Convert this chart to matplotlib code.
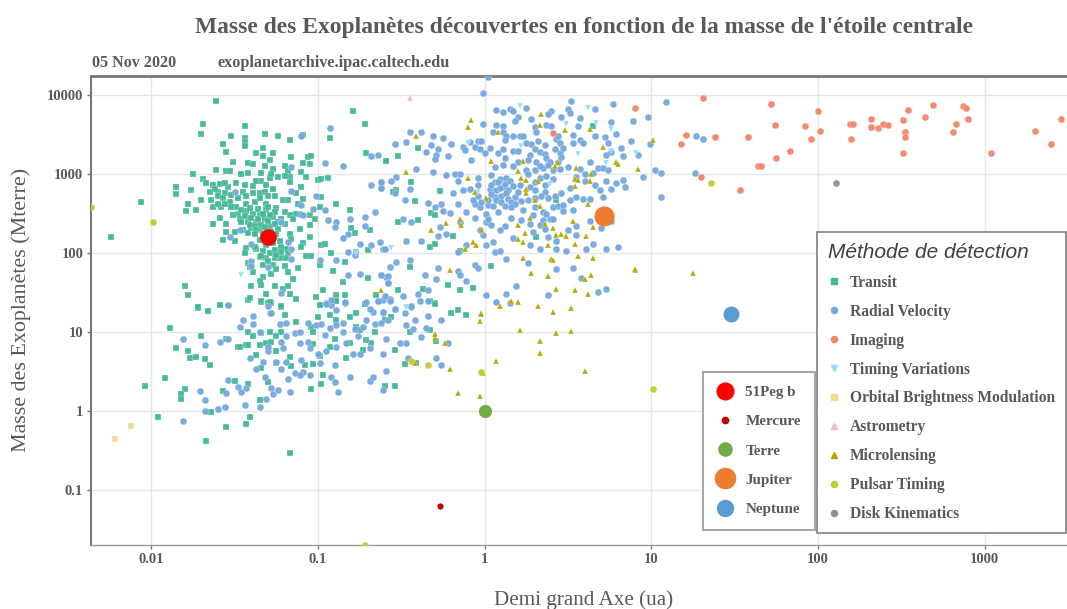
import matplotlib.pyplot as plt
import numpy as np
from matplotlib.lines import Line2D

# values, stored as log10(semi-major axis in ua), log10(mass in Mearth)
transit = [
    (-1.61,3.93),(-0.79,3.80),(-1.69,3.64),(-0.72,3.64),(-1.44,3.61),(-1.70,3.51),(-1.52,3.49),(-1.32,3.51),(-1.24,3.49),(-1.09,3.50),
    (-1.17,3.43),(-0.93,3.46),(-1.44,3.46),(-1.44,3.41),(-1.44,3.36),(-1.57,3.38),(-1.55,3.28),(-1.33,3.33),(-1.37,3.27),(-1.27,3.27),
    (-1.33,3.23),(-1.29,3.18),(-1.16,3.22),(-0.71,3.27),(-1.06,3.22),(-1.04,3.23),(-0.59,3.17),(-1.51,3.15),(-1.42,3.14),(-1.39,3.13),
    (-1.32,3.11),(-1.27,3.07),(-1.20,3.11),(-1.09,3.14),(-1.05,3.13),(-1.61,3.06),(-1.75,3.00),(-1.55,3.04),(-1.53,3.04),(-1.42,3.01),
    (-1.46,3.00),(-1.34,3.01),(-1.18,3.04),(-1.10,3.03),(-1.24,2.96),(-1.17,2.96),(-1.07,2.96),(-0.94,2.95),(-1.00,2.93),(-0.98,2.94),
    (-1.69,2.94),(-1.85,2.84),(-1.85,2.75),(-1.76,2.80),(-2.06,2.65),(-1.78,2.62),(-1.70,2.68),(-1.79,2.53),(-1.73,2.55),(-2.24,2.20),
    (-1.67,2.89),(-1.63,2.86),(-1.59,2.88),(-1.54,2.84),(-1.49,2.89),(-1.44,2.87),(-1.39,2.85),(-1.34,2.91),(-1.29,2.95),(-1.17,2.90),
    (-1.10,2.84),(-1.27,2.82),(-1.65,2.78),(-1.60,2.78),(-1.56,2.76),(-1.45,2.78),(-1.35,2.76),(-1.26,2.72),(-1.13,2.76),(-1.64,2.67),
    (-1.63,2.58),(-1.58,2.58),(-1.53,2.65),(-1.49,2.59),(-1.43,2.63),(-1.38,2.65),(-1.31,2.63),(-1.21,2.68),(-1.18,2.68),(-1.12,2.63),
    (-1.09,2.69),(-0.99,2.59),(-0.98,2.71),(-0.89,2.63),(-0.81,2.55),(-1.05,2.49),(-1.02,2.43),(-1.05,2.36),(-1.13,2.50),(-1.17,2.49),
    (-1.25,2.57),(-1.31,2.55),(-1.35,2.48),(-1.39,2.50),(-1.43,2.53),(-1.48,2.50),(-1.51,2.48),(-1.47,2.44),(-1.42,2.40),(-1.37,2.40),
    (-1.32,2.44),(-1.27,2.46),(-1.22,2.44),(-1.15,2.44),(-1.11,2.31),(-1.59,2.45),(-1.63,2.37),(-1.55,2.37),(-1.55,2.27),(-1.50,2.27),
    (-1.45,2.29),(-1.40,2.32),(-1.35,2.29),(-1.29,2.34),(-1.17,2.24),(-1.16,2.18),(-1.57,2.17),(-1.50,2.15),(-1.05,2.20),(-1.09,2.13),
    (-1.10,2.08),(-1.19,2.05),(-1.43,2.07),(-1.44,2.01),(-1.37,2.06),(-1.31,2.11),(-1.22,2.08),(-0.98,2.10),(-0.96,2.12),(-0.92,2.01),
    (-0.80,2.32),(-0.78,2.26),(-0.69,2.30),(-0.70,2.04),(-0.77,2.02),(-1.07,1.96),(-1.04,1.96),(-0.99,1.85),(-1.12,1.82),(-1.20,1.84),
    (-1.35,1.95),(-1.31,1.94),(-1.26,1.94),(-1.22,1.94),(-1.42,1.88),(-1.41,1.83),(-1.33,1.85),(-1.27,1.85),(-1.25,1.80),(-1.28,1.74),
    (-1.39,1.76),(-1.18,1.76),(-1.33,1.70),(-1.15,1.68),(-1.35,1.65),(-1.34,1.60),(-1.40,1.58),(-1.26,1.58),(-1.21,1.55),(-1.18,1.59),
    (-1.17,1.49),(-1.31,1.49),(-1.13,1.42),(-1.42,1.41),(-1.41,1.43),(-1.34,1.38),(-1.30,1.37),(-1.28,1.37),(-1.22,1.32),(-1.80,1.59),
    (-1.78,1.47),(-1.72,1.31),(-1.66,1.27),(-1.59,1.35),(-1.01,1.45),(-0.97,1.54),(-0.91,1.78),(-0.84,1.89),(-0.85,1.64),(-0.70,1.69),
    (-0.89,1.47),(-0.84,1.47),(-0.89,1.39),(-0.99,1.34),(-0.72,1.36),(-0.65,1.47),
    (-1.72,1.32),(-1.66,1.27),(-1.59,1.35),(-1.34,1.39),(-1.29,1.38),(-1.22,1.33),(-1.20,1.22),(-1.13,1.13),(-1.89,1.05),(-1.70,0.95),
    (-1.85,0.80),(-1.78,0.76),(-1.77,0.67),(-1.73,0.69),(-1.68,0.66),(-1.65,0.59),(-2.04,0.32),(-1.92,0.42),(-1.80,0.28),(-1.82,0.22),
    (-1.82,0.15),(-1.57,0.26),(-1.50,0.39),(-1.42,0.35),(-1.35,0.14),(-1.30,0.37),(-1.96,-0.07),(-1.64,-0.01),(-1.41,-0.07),(-1.43,-0.16),
    (-1.55,-0.20),(-1.67,-0.38),(-1.17,-0.53),(-1.55,0.91),(-1.48,0.81),(-1.47,0.81),(-1.43,0.84),(-1.42,0.84),(-1.35,0.84),(-1.37,0.71),
    (-1.42,1.00),(-1.39,0.95),(-1.34,0.99),(-1.31,0.87),(-1.28,0.88),(-1.29,1.01),(-1.22,1.00),(-1.25,0.95),(-1.25,0.76),(-1.17,0.69),
    (-1.16,0.57),(-1.34,0.55),(-1.25,0.61),(-1.08,0.59),(-1.03,0.60),(-0.99,0.70),(-1.03,0.85),(-0.93,0.82),(-0.90,0.92),(-0.83,0.67),
    (-0.73,0.78),(-0.68,0.86),(-0.71,0.90),(-0.81,0.87),(-0.66,1.01),(-0.54,0.78),(-0.48,0.60),(-0.41,0.61),(-0.45,1.00),(-0.33,1.03),
    (-0.29,0.89),(-0.30,1.37),(-0.60,0.32),(-0.54,0.32),(-0.97,0.46),(-0.98,0.35),(-1.04,0.28),(-1.04,1.07),(-1.03,1.01),(-1.00,1.20),
    (-0.93,1.22),(-0.89,1.16),(-0.81,1.19),(-0.77,1.24),(-0.77,1.07),(-0.75,1.03),(-0.99,1.35),(-0.89,1.39),(-0.72,1.36),(-0.56,1.20),
    (-0.60,1.16),(-0.40,3.33),(-0.52,3.23),(-0.59,3.17),(-0.44,2.90),(-0.53,2.80),(-0.55,2.77),(-0.27,2.79),(-0.42,2.66),(-0.32,2.51),
    (-0.30,2.48),(-0.52,2.39),(-0.40,2.42),(-0.19,2.22),(-0.33,2.08),(-0.30,2.12),(-0.15,2.03),(0.04,1.84),(-0.45,1.83),(-0.22,1.60),
    (-0.15,1.54),(-0.07,1.56),(-0.52,1.54),(-0.37,1.55),(-0.33,1.39),(-0.30,1.36),(-0.16,1.28),(-0.20,1.25),(-0.11,1.22),(0.43,2.68),
    (0.31,2.20),(0.65,3.61),
    # the dense knot around 51Peg b
    (-1.46,2.55),(-1.41,2.57),(-1.36,2.56),(-1.30,2.58),(-1.26,2.52),(-1.20,2.52),(-1.44,2.47),(-1.40,2.45),(-1.36,2.44),(-1.33,2.50),
    (-1.29,2.49),(-1.24,2.40),(-1.20,2.37),(-1.46,2.40),(-1.41,2.36),(-1.38,2.35),(-1.34,2.36),(-1.30,2.41),(-1.26,2.37),(-1.37,2.30),
    (-1.32,2.33),(-1.28,2.27),(-1.24,2.31),(-1.42,2.26),(-1.38,2.25),(-1.33,2.24),(-1.29,2.20),(-1.25,2.25),(-1.35,2.17),(-1.31,2.17),
    (-1.27,2.13),(-1.23,2.16),(-1.38,2.08),(-1.33,2.03),(-1.29,2.00),(-1.26,2.04),(-1.22,2.02),(-1.18,2.00),(-1.34,1.96),(-1.30,1.90),
    (-1.25,1.98),(-1.19,1.94),(-1.60,2.72),(-1.57,2.70),(-1.52,2.74),(-1.48,2.70),(-1.43,2.72),(-1.39,2.76),(-1.32,2.78),(-1.60,2.63),
    (-1.56,2.62),(-1.52,2.58),(-1.35,2.70),(-1.30,2.72),(-1.62,2.82),(-1.56,2.89),(-1.37,2.92),(-1.31,2.87),(-1.28,3.00),(-1.20,2.98),
]
radial = [
    (-1.54,1.35),(-1.29,1.25),(-1.39,1.21),(-1.45,1.15),(-1.47,1.07),(-1.39,1.11),(-1.81,0.91),(-1.68,0.84),(-1.59,0.88),(-1.54,0.92),
    (-1.41,0.68),(-1.37,0.53),(-1.33,0.62),(-1.30,0.76),(-1.30,0.82),(-1.35,1.00),(-1.22,0.54),(-1.25,0.62),(-1.19,0.63),(-1.14,0.49),
    (-1.18,0.41),(-1.32,0.43),(-1.54,0.40),(-1.48,0.31),(-1.46,0.24),(-1.43,0.29),(-1.71,0.26),(-1.55,0.23),(-1.68,0.14),(-1.68,0.00),
    (-1.60,0.03),(-1.56,0.06),(-1.44,0.08),(-1.35,0.05),(-1.31,0.15),(-1.81,-0.12),(-1.28,0.29),(-1.27,0.22),(-1.24,0.27),(-1.17,0.24),
    (-1.22,0.88),(-1.21,0.80),(-1.19,0.95),(-1.14,0.99),(-1.11,1.01),(-1.11,0.87),(-1.06,0.88),(-1.05,0.80),(-1.09,0.50),(-1.05,0.46),
    (-1.11,0.46),(-1.10,0.65),(-0.99,0.61),(-1.00,0.73),(-0.95,0.76),(-0.90,0.58),(-0.92,0.44),(-0.90,0.37),(-0.88,0.25),(-0.81,0.43),
    (-0.79,0.73),(-0.75,0.72),(-0.69,0.80),(-0.69,0.38),(-0.67,0.43),(-0.61,0.72),(-0.59,0.51),(-0.61,0.27),(-0.59,0.91),(-0.51,0.86),
    (-0.47,0.87),(-0.38,0.94),(-0.35,1.05),(-0.34,1.21),(-0.26,1.16),(-0.22,0.86),(-0.29,0.68),(-0.26,0.59),(-0.46,0.68),(-1.23,1.11),
    (-1.19,1.12),(-1.06,1.12),(-1.01,1.09),(-0.98,1.10),(-0.93,1.05),(-0.85,1.01),(-0.89,1.09),(-0.85,1.12),(-0.78,1.04),(-0.73,1.07),
    (-0.71,1.16),(-0.66,1.10),(-0.62,1.12),(-0.58,1.16),(-0.67,1.26),(-0.61,1.25),(-0.54,1.29),(-0.48,1.24),(-0.47,1.09),(-0.43,1.04),
    (-0.42,1.16),(-0.44,1.32),(-0.34,1.39),(-0.95,1.37),(-0.92,1.35),(-0.84,1.37),(-0.89,1.28),(-0.64,1.39),(-0.96,0.97),(-0.89,0.82),
    (-0.83,0.87),(-0.76,0.95),
    (0.02,4.23),(-0.01,4.03),(0.52,3.93),(0.77,3.89),(1.09,3.92),(0.07,3.81),(0.11,3.79),(0.15,3.82),(0.17,3.80),(0.25,3.84),
    (0.40,3.80),(0.38,3.76),(0.50,3.83),(0.51,3.78),(0.66,3.83),(0.46,3.73),(0.57,3.71),(0.20,3.72),(0.18,3.67),(0.28,3.70),
    (0.76,3.66),(0.89,3.68),(0.98,3.73),(-0.01,3.64),(0.07,3.63),(0.11,3.61),(0.30,3.60),(0.37,3.62),(0.56,3.61),(0.40,3.61),
    (-0.45,3.53),(-0.38,3.54),(-0.31,3.49),(-0.25,3.46),(0.05,3.53),(0.11,3.54),(0.13,3.49),(0.17,3.49),(0.21,3.49),(0.23,3.49),
    (0.31,3.54),(0.43,3.45),(0.66,3.48),(0.72,3.47),(0.79,3.51),(0.53,3.50),(-0.54,3.38),(-0.47,3.41),(-0.32,3.37),(-0.20,3.38),
    (-0.09,3.41),(-0.04,3.42),(-0.02,3.42),(0.12,3.43),(0.57,3.44),(0.59,3.39),(0.53,3.39),(0.88,3.42),(0.99,3.38),(-0.35,3.28),
    (-0.28,3.32),(-0.29,3.24),(-0.30,3.19),(-0.22,3.23),(-0.13,3.35),(-0.12,3.31),(-0.06,3.35),(-0.03,3.32),(0.00,3.27),(0.03,3.33),
    (0.08,3.27),(0.11,3.32),(0.17,3.30),(0.20,3.29),(0.28,3.38),(0.30,3.32),(0.33,3.28),(0.36,3.26),(0.27,3.24),(0.45,3.27),
    (0.45,3.39),(0.74,3.39),(0.73,3.24),(0.76,3.28),(0.82,3.33),(0.83,3.23),(0.92,3.25),(-0.08,3.18),(0.12,3.21),(0.20,3.16),
    (0.37,3.20),(0.39,3.16),(0.31,3.15),(0.26,3.18),(0.06,3.09),(0.11,3.12),(0.17,3.11),(0.25,3.05),(0.30,3.05),(0.35,3.08),
    (0.41,3.05),(0.45,3.07),(0.50,3.09),(0.57,3.07),(0.63,3.16),(0.68,3.08),(0.71,3.08),(0.74,3.05),(1.02,3.06),(1.06,3.01),
    (-0.41,3.07),(-0.31,3.03),(-0.53,2.97),(-0.56,2.92),(-0.62,2.90),(-0.62,2.83),(-0.45,2.82),(-0.23,2.99),(-0.18,3.00),(-0.15,3.00),
    (-0.16,2.91),(-0.04,2.95),(-0.04,2.86),(-0.13,2.80),(-0.09,2.81),(0.04,2.99),(0.06,2.90),(0.09,2.94),(0.13,2.95),(0.03,2.82),
    (0.07,2.80),(0.11,2.84),(0.14,2.80),(0.06,2.71),(0.10,2.73),(0.14,2.69),(0.18,2.71),(0.21,2.86),(0.20,2.78),(0.27,2.84),
    (0.30,2.80),(0.36,2.86),(0.36,2.77),(0.41,2.94),(0.46,2.76),(0.51,2.67),(0.55,2.71),(0.59,2.69),(0.63,2.69),(0.69,2.80),
    (0.66,2.86),(0.60,2.92),(0.51,2.83),(0.71,2.71),(0.73,2.91),(0.79,2.89),(0.83,2.93),(0.84,2.84),(0.76,2.81),(0.95,2.97),
    (1.06,2.71),(-0.48,2.68),(-0.54,2.76),(-0.34,2.64),(-0.30,2.59),(-0.26,2.62),(-0.25,2.54),(-0.21,2.51),(-0.19,2.76),(-0.16,2.63),
    (-0.11,2.52),(-0.06,2.63),(-0.03,2.59),(0.02,2.61),(0.08,2.52),(0.01,2.50),(0.23,2.55),(0.30,2.59),(0.29,2.48),(0.35,2.52),
    (0.41,2.59),(0.44,2.60),(0.47,2.61),(0.53,2.55),(0.47,2.54),(0.39,2.43),(0.63,2.41),(0.76,2.41),(-0.49,2.43),(-0.44,2.40),
    (-0.27,2.33),(-0.06,2.45),(0.01,2.40),(0.16,2.45),(0.12,2.35),(0.22,2.42),(0.27,2.37),(0.36,2.31),(0.50,2.30),(0.55,2.35),
    (0.70,2.32),(0.09,2.29),(0.29,2.27),(-0.23,2.25),(-0.28,2.22),(-0.47,2.16),(-0.38,2.16),(-0.61,2.06),(-0.01,2.23),(0.05,2.14),
    (-0.11,2.11),(0.01,2.10),(0.17,2.19),(0.27,2.10),(0.38,2.21),(0.43,2.16),(0.55,2.23),(0.65,2.12),(0.33,2.06),(0.43,2.06),
    (0.49,2.03),(0.61,2.05),(0.73,2.05),(0.80,2.08),(-0.16,2.02),(0.06,2.02),(0.09,2.03),(0.13,1.93),(0.26,1.88),(-0.45,1.92),
    (-0.53,1.89),(-0.57,1.83),(-0.28,1.82),(-0.16,1.78),(-0.06,1.85),(-0.04,1.82),(-0.62,1.73),(-0.36,1.72),(-0.29,1.68),(-0.15,1.72),
    (-0.59,1.70),(-0.58,1.62),(-0.11,1.65),(0.43,1.80),(0.53,1.81),(0.58,1.69),(0.19,1.58),(0.13,1.49),(0.01,1.47),(0.38,1.47),
    (0.68,1.51),(0.73,1.55),(-0.49,1.46),(-0.40,1.49),(-0.39,1.40),(-0.34,1.53),(-0.61,1.41),(-0.57,1.42),(-0.44,1.33),(-0.54,1.29),
    (0.07,1.38),(0.15,1.37),(1.27,3.49),(1.31,3.45),(1.26,3.01),
    (-0.93,3.59),(-1.10,3.49),(-0.68,3.23),(-0.64,3.24),(-0.96,3.14),(-0.85,3.10),(-1.16,3.09),(-0.68,2.86),(-0.62,2.90),(-0.62,2.83),
    (-1.50,2.77),(-1.16,2.79),(-1.01,2.72),(-1.10,2.61),(-1.03,2.56),(-0.96,2.55),(-1.11,2.50),(-1.09,2.48),(-0.66,2.52),(-0.94,2.42),
    (-0.81,2.44),(-0.72,2.46),(-0.89,2.40),(-0.90,2.33),(-0.72,2.35),(-0.82,2.25),(-0.85,2.19),(-0.75,2.12),(-0.68,2.11),(-0.63,2.14),
    (-0.60,2.06),(-1.53,2.21),(-1.40,2.12),(-1.16,2.06),(-1.18,2.14),(-1.22,2.40),(-1.47,2.29),(-0.82,2.02),(-0.78,1.98),(-1.16,1.93),
    (-0.99,1.92),(-0.89,1.92),(-1.40,1.90),(-1.40,1.84),(-1.30,1.83),(-0.82,1.73),(-0.75,1.74),(-0.62,1.73),(-0.58,1.71),(-0.58,1.63),
    (-1.22,1.50),(-1.54,1.34),(-1.30,1.33),(-1.28,1.25),(-0.92,1.41),(-0.95,1.36),(-0.84,1.38),(-0.71,1.38),(-0.64,1.40),(-0.60,1.46),
    (-0.57,1.40),(-0.69,1.30),(-0.61,1.26),
    # the dense knot around 1 ua
    (0.04,2.75),(0.07,2.68),(0.10,2.65),(0.13,2.76),(0.16,2.65),(0.18,2.62),(0.02,2.68),(0.05,2.60),(0.09,2.83),(0.12,2.88),
    (0.15,2.91),(0.08,2.90),(0.17,2.85),(0.04,2.86),(-0.04,2.72),(-0.02,2.65),(-0.07,2.68),(0.12,2.60),(0.16,2.58),(0.22,2.66),
    (0.26,2.68),(0.30,2.70),(0.34,2.72),(0.38,2.70),(0.42,2.72),(0.30,2.90),(0.33,2.95),(0.37,2.98),(0.26,3.00),(0.33,3.10),
    (0.38,3.12),(0.44,3.15),(0.46,3.22),(0.42,3.32),(0.36,3.37),(0.32,3.42),(0.25,3.40),(0.44,3.48),(0.47,3.33),(0.60,3.00),
    (0.65,3.02),(0.55,2.97),(0.35,2.42),(0.37,2.50),(0.41,2.44),(0.33,2.36),(0.02,2.44),(0.04,2.36),(-0.03,2.30),(-0.15,2.40),
]
imaging = [
    (1.31,3.97),(1.72,3.89),(2.00,3.80),(1.74,3.63),(1.92,3.61),(1.21,3.50),(1.18,3.38),(1.38,3.47),(1.58,3.47),(1.96,3.45),
    (2.01,3.55),(1.83,3.30),(1.75,3.20),(1.64,3.10),(1.66,3.10),(1.30,2.97),(1.53,2.80),(2.19,3.64),(2.21,3.64),(2.20,3.45),
    (2.32,3.70),(2.32,3.60),(2.36,3.59),(2.39,3.64),(2.42,3.63),(2.51,3.69),(2.54,3.81),(2.64,3.73),(2.69,3.88),(2.52,3.54),
    (2.52,3.47),(2.51,3.27),(2.83,3.64),(2.81,3.54),(2.87,3.86),(2.89,3.84),(2.90,3.70),(3.04,3.27),(3.30,3.55),(3.40,3.38),
    (3.46,3.70),(0.90,3.84),(0.41,3.52),
]
timing = [
    (-1.46,1.73),(-0.77,2.00),(0.21,3.86),(0.62,3.84),(0.49,3.64),(0.67,3.65),(0.76,3.57),(-0.10,3.39),(0.22,3.36),(0.56,3.26),
    (0.91,3.27),(0.76,3.29),(0.73,3.14),(0.39,2.88),(-0.04,2.77),(-0.56,2.07),(-0.47,1.31),(-0.47,1.32),
]
brightness = [(-2.22,-0.35),(-2.12,-0.18)]
astrometry = [(-0.45,3.96)]
microlensing = [
    (-0.08,3.69),(-0.10,3.60),(0.34,3.76),(0.33,3.63),(0.08,3.54),(0.48,3.56),(0.63,3.57),(-0.41,3.48),(1.01,3.43),(0.71,3.35),
    (0.04,3.17),(0.23,3.17),(0.44,3.15),(0.42,3.11),(0.79,3.16),(0.80,3.13),(0.55,3.08),(0.92,3.07),(-0.47,3.03),(0.20,3.04),
    (0.64,3.00),(-0.10,2.95),(0.22,2.95),(0.25,2.93),(0.32,2.91),(0.54,2.94),(0.56,2.93),(0.63,2.92),(0.54,2.85),(0.25,2.81),
    (0.25,2.76),(-0.06,2.77),(0.01,2.70),(0.30,2.68),(0.33,2.60),(0.62,2.62),(0.27,2.45),(-0.15,2.43),(-0.14,2.36),(-0.23,2.38),
    (0.20,2.36),(0.36,2.37),(0.53,2.41),(0.65,2.33),(-0.32,2.29),(-0.02,2.30),(0.24,2.26),(0.41,2.32),(0.61,2.22),(0.43,2.23),
    (0.46,2.24),(0.49,2.22),(0.20,2.18),(0.23,2.14),(-0.07,2.14),(-0.05,2.10),(-0.12,2.05),(0.38,2.11),(0.54,2.12),(0.56,1.97),
    (0.65,1.94),(0.23,1.94),(0.40,1.93),(0.41,1.91),(0.90,1.79),(-0.21,1.79),(0.28,1.75),(0.38,1.71),(0.64,1.73),(0.60,1.67),
    (0.43,1.55),(0.54,1.54),(0.62,1.48),(-0.62,1.54),(0.20,1.38),(0.32,1.33),(0.52,1.31),(0.41,1.26),(-0.02,1.24),(-0.02,1.23),
    (0.16,1.40),(0.21,1.03),(0.33,0.89),(0.07,0.64),(-0.01,0.49),(-0.16,0.23),(-0.03,0.19),(-0.42,0.61),(-0.24,0.87),(-0.30,0.93),
    (-0.03,1.14),(0.09,1.33),(0.43,0.99),(0.52,1.02),(0.60,0.51),(0.33,0.74),(0.90,1.80),(1.25,1.75),(-0.30,0.98),(-0.21,0.54),
]
pulsar = [(-2.36,2.58),(-1.99,2.40),(-0.44,0.64),(-0.34,0.59),(-0.72,-1.69),(1.01,0.28),(1.36,2.89),(-0.02,0.50)]
disk = [(2.11,2.89)]

method_names = ['Transit', 'Radial Velocity', 'Imaging', 'Timing Variations',
                'Orbital Brightness Modulation', 'Astrometry', 'Microlensing',
                'Pulsar Timing', 'Disk Kinematics']
method_data = [transit, radial, imaging, timing, brightness, astrometry, microlensing, pulsar, disk]
method_colors = ['#3fb897', '#73a8de', '#f2856a', '#93dcfb', '#f0dd8d', '#fbb4c4', '#b0a800', '#c2cc2e', '#909090']
method_markers = ['s', 'o', 'o', 'v', 's', '^', '^', 'o', 'o']

ref_names = ['51Peg b', 'Mercure', 'Terre', 'Jupiter', 'Neptune']
ref_a = [0.05, 0.54, 1.0, 5.2, 30.0]
ref_m = [160, 0.063, 1.0, 300, 17]
ref_colors = ['#ff0000', '#c00000', '#70ad47', '#ed7d31', '#5b9bd5']
ref_sizes = [12, 4.5, 9.5, 14.5, 11.5]

GRAY = '#595959'
plt.rcParams['font.family'] = ['Liberation Serif', 'DejaVu Serif']

fig = plt.figure(figsize=(10.67, 6.09), dpi=100)
ax = fig.add_axes([91.5 / 1067, 1 - 545 / 609, (1067 - 91.5) / 1067, (545 - 76) / 609])
ax.set_xscale('log')
ax.set_yscale('log')

for name, pts, col, mk in zip(method_names, method_data, method_colors, method_markers):
    pts = np.array(pts)
    ax.plot(10 ** pts[:, 0], 10 ** pts[:, 1], mk, color=col, ms=5, mec='#ffffff', mew=0.2,
            alpha=0.95, zorder=3, label=name)

for a, m, col, size in zip(ref_a, ref_m, ref_colors, ref_sizes):
    ax.plot(a, m, 'o', color=col, ms=size, mec='none', zorder=5)

ax.set_xlim(10 ** -2.359, 10 ** 3.493)
ax.set_ylim(10 ** -1.692, 10 ** 4.244)
ax.grid(True, color='#e6e6e6', lw=1)
ax.set_axisbelow(True)
ax.set_xticks([0.01, 0.1, 1, 10, 100, 1000])
ax.set_xticklabels(['0.01', '0.1', '1', '10', '100', '1000'])
ax.set_yticks([0.1, 1, 10, 100, 1000, 10000])
ax.set_yticklabels(['0.1', '1', '10', '100', '1000', '10000'])
ax.minorticks_off()
ax.tick_params(length=3, width=1, color='#777777', labelcolor=GRAY, labelsize=10.5, pad=3)
for lab in ax.get_xticklabels() + ax.get_yticklabels():
    lab.set_fontweight('bold')
for side in ['left', 'top', 'bottom']:
    ax.spines[side].set_color('#777777')
ax.spines['left'].set_linewidth(1.5)
ax.spines['top'].set_linewidth(2)
ax.spines['bottom'].set_linewidth(1)
ax.spines['bottom'].set_color('#999999')
ax.spines['right'].set_visible(False)

fig.text(584 / 1067, 1 - 27 / 609, "Masse des Exoplanètes découvertes en fonction de la masse de l'étoile centrale",
         ha='center', va='center', fontsize=16.9, fontweight='bold', color=GRAY)
fig.text(92 / 1067, 1 - 63 / 609, '05 Nov 2020', ha='left', va='center', fontsize=11.6, fontweight='bold', color=GRAY)
fig.text(218 / 1067, 1 - 63 / 609, 'exoplanetarchive.ipac.caltech.edu', ha='left', va='center',
         fontsize=11.7, fontweight='bold', color=GRAY)
fig.text(584 / 1067, 1 - 600 / 609, 'Demi grand Axe (ua)', ha='center', va='center', fontsize=15.2, color=GRAY)
fig.text(21 / 1067, 1 - 310 / 609, 'Masse des Exoplanètes (Mterre)', ha='center', va='center', rotation=90,
         fontsize=15.8, color=GRAY)

# detection method legend
handles = [Line2D([], [], ls='', marker=mk, color=col, ms=4.4) for col, mk in zip(method_colors, method_markers)]
leg = ax.legend(handles, method_names, loc='upper left', bbox_to_anchor=(817 / 1067, 1 - 232 / 609),
                bbox_transform=fig.transFigure, frameon=True, fancybox=False, framealpha=1, borderaxespad=0,
                edgecolor='#808080', borderpad=0.7, labelspacing=0.83, handletextpad=0.64, handlelength=0.77,
                prop={'size': 11.2, 'weight': 'bold'}, labelcolor=GRAY,
                title='Méthode de détection', alignment='left',
                title_fontproperties={'family': 'Liberation Sans', 'style': 'italic', 'size': 15})
leg.get_title().set_color('#404040')
leg.get_frame().set_linewidth(1.2)
leg.set_zorder(10)
ax.add_artist(leg)

# reference planets legend
ref_handles = [Line2D([], [], ls='', marker='o', color=c, ms=s) for c, s in zip(ref_colors, ref_sizes)]
leg2 = ax.legend(ref_handles, ref_names, loc='upper left', bbox_to_anchor=(703 / 1067, 1 - 372 / 609),
                 bbox_transform=fig.transFigure, frameon=True, fancybox=False, framealpha=1, borderaxespad=0,
                 edgecolor='#a6a6a6', borderpad=0.9, labelspacing=1.03, handletextpad=0.8, handlelength=1.1,
                 prop={'size': 10.9, 'weight': 'bold'}, labelcolor=GRAY)
leg2.get_frame().set_linewidth(1.5)
leg2.set_zorder(10)

fig.savefig('out.png', dpi=100)
